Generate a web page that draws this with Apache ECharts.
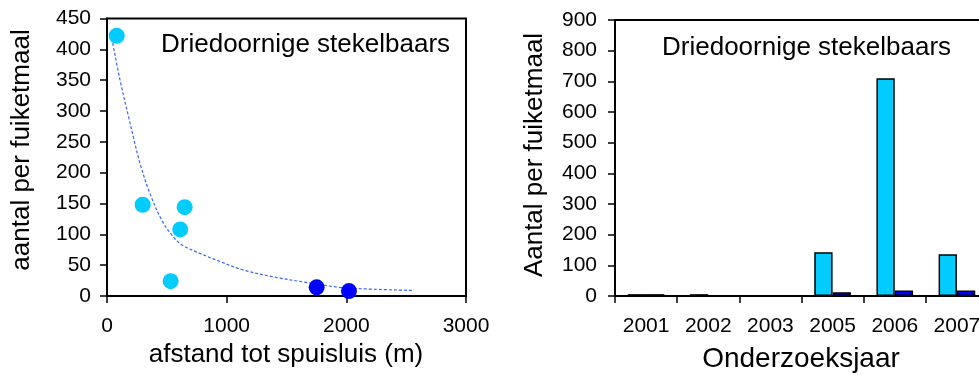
<!DOCTYPE html>
<html>
<head>
<meta charset="utf-8">
<script src="https://cdn.jsdelivr.net/npm/echarts@6/dist/echarts.min.js"></script>
<style>
html,body{margin:0;padding:0;background:#fff;overflow:hidden;width:979px;height:379px;}
#chart{width:992px;height:379px;}
</style>
</head>
<body>
<div id="chart"></div>
<script>
// Left panel: scatter (distance to sluice vs. catch per fyke)
var nearPoints = [[81, 422], [298, 148], [649, 144], [612, 108], [532, 24]];
var farPoints = [[1752, 14], [2022, 8]];
var trendPoints = [[40, 418], [109, 350], [187, 285], [220, 258], [276, 215], [359, 166], [457, 123], [554, 96], [624, 83], [777, 69], [917, 58], [1125, 43], [1390, 31], [1668, 22], [1947, 14], [2225, 11], [2560, 9]];
var leftTitle = 'Driedoornige stekelbaars';
var leftYName = 'aantal per fuiketmaal';
var leftXName = 'afstand tot spuisluis (m)';

// Right panel: bars per survey year
var years = ['2001', '2002', '2003', '2005', '2006', '2007'];
var lightValues = [6, 6, null, 143, 710, 136];
var darkValues = [6, null, null, 12, 18, 18];
var rightTitle = 'Driedoornige stekelbaars';
var rightYName = 'Aantal per fuiketmaal';
var rightXName = 'Onderzoeksjaar';

var FONT = '"Liberation Sans", Arial, sans-serif';
var LIGHT = '#00CCFF';
var DARK = '#0000FF';

var axisLine = {show: true, onZero: false, lineStyle: {color: '#000', width: 2}};
var axisTick = {show: true, length: 7, lineStyle: {color: '#000', width: 1.5}};
function lbl(margin) {
  return {color: '#000', fontFamily: FONT, fontSize: 21, margin: margin, formatter: function (v) { return String(v); }};
}

var chart = echarts.init(document.getElementById('chart'), null, {renderer: 'canvas', width: 992, height: 379});
chart.setOption({
  animation: false,
  backgroundColor: '#fff',
  grid: [
    {left: 107, top: 18.5, width: 359, height: 277.5, show: true, borderColor: '#000', borderWidth: 2, backgroundColor: 'transparent', containLabel: false},
    {left: 615, top: 20, width: 373, height: 276, show: true, borderColor: '#000', borderWidth: 2, backgroundColor: 'transparent', containLabel: false}
  ],
  xAxis: [
    {type: 'value', gridIndex: 0, min: 0, max: 3000, interval: 1000, axisLine: axisLine, axisTick: axisTick, axisLabel: lbl(20), splitLine: {show: false}},
    {type: 'category', gridIndex: 1, data: years, axisLine: axisLine, axisTick: axisTick, axisLabel: Object.assign(lbl(20), {interval: 0}), splitLine: {show: false}}
  ],
  yAxis: [
    {type: 'value', gridIndex: 0, min: 0, max: 450, interval: 50, axisLine: axisLine, axisTick: axisTick, axisLabel: lbl(16), splitLine: {show: false}},
    {type: 'value', gridIndex: 1, min: 0, max: 900, interval: 100, axisLine: axisLine, axisTick: axisTick, axisLabel: lbl(18), splitLine: {show: false}}
  ],
  series: [
    {type: 'line', xAxisIndex: 0, yAxisIndex: 0, data: trendPoints, smooth: 0.35, symbol: 'none', lineStyle: {color: '#3366FF', width: 1.2, type: [3, 2]}, z: 2},
    {type: 'scatter', xAxisIndex: 0, yAxisIndex: 0, data: nearPoints, symbolSize: 16, itemStyle: {color: LIGHT, opacity: 1}, z: 3},
    {type: 'scatter', xAxisIndex: 0, yAxisIndex: 0, data: farPoints, symbolSize: 16, itemStyle: {color: DARK, opacity: 1}, z: 3},
    {type: 'bar', xAxisIndex: 1, yAxisIndex: 1, data: lightValues, barGap: '0%', barCategoryGap: '41%', itemStyle: {color: LIGHT, borderColor: '#000', borderWidth: 1.5}},
    {type: 'bar', xAxisIndex: 1, yAxisIndex: 1, data: darkValues, barGap: '0%', barCategoryGap: '41%', itemStyle: {color: DARK, borderColor: '#000', borderWidth: 1.5}}
  ],
  graphic: [
    {type: 'text', left: 161, top: 32, style: {text: leftTitle, fill: '#000', font: '26px ' + FONT}},
    {type: 'text', left: 662, top: 35, style: {text: rightTitle, fill: '#000', font: '26px ' + FONT}},
    {type: 'text', x: 22, y: 150, rotation: Math.PI / 2, style: {text: leftYName, fill: '#000', font: '26px ' + FONT, textAlign: 'center', textVerticalAlign: 'middle'}},
    {type: 'text', x: 535, y: 155, rotation: Math.PI / 2, style: {text: rightYName, fill: '#000', font: '26px ' + FONT, textAlign: 'center', textVerticalAlign: 'middle'}},
    {type: 'text', x: 286, y: 355, style: {text: leftXName, fill: '#000', font: '26px ' + FONT, textAlign: 'center', textVerticalAlign: 'middle'}},
    {type: 'text', x: 801, y: 359, style: {text: rightXName, fill: '#000', font: '28px ' + FONT, textAlign: 'center', textVerticalAlign: 'middle'}}
  ]
});
</script>
</body>
</html>
